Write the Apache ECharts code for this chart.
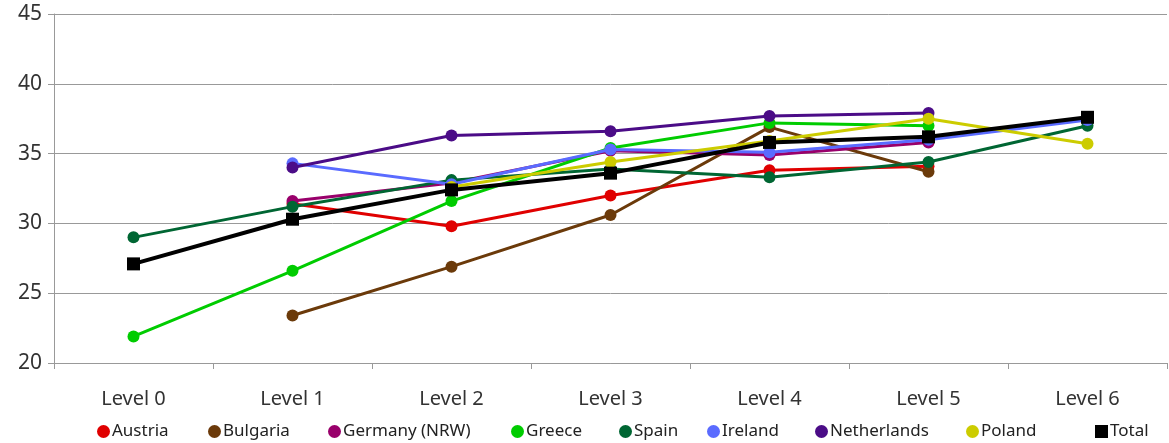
<!DOCTYPE html>
<html><head><meta charset="utf-8">
<script src="https://cdn.jsdelivr.net/npm/echarts@6/dist/echarts.min.js"></script>
<style>html,body{margin:0;padding:0;background:#fff}#c{width:1169px;height:443px}</style>
</head><body><div id="c"></div>
<script>
const categories = ['Level 0','Level 1','Level 2','Level 3','Level 4','Level 5','Level 6'];
const yTicks = [20,25,30,35,40,45];
const austria     = [null, 31.4, 29.8, 32.0, 33.8, 34.1, null];
const bulgaria    = [null, 23.4, 26.9, 30.6, 36.9, 33.7, null];
const germany     = [null, 31.6, 32.9, 35.2, 34.9, 35.8, null];
const greece      = [21.9, 26.6, 31.6, 35.4, 37.2, 37.0, null];
const spain       = [29.0, 31.2, 33.1, 33.9, 33.3, 34.4, 37.0];
const ireland     = [null, 34.3, 32.8, 35.3, 35.1, 36.0, 37.4];
const netherlands = [null, 34.0, 36.3, 36.6, 37.7, 37.9, null];
const poland      = [null, null, 32.6, 34.4, 35.9, 37.5, 35.7];
const total       = [27.1, 30.3, 32.4, 33.6, 35.8, 36.2, 37.6];

const names  = ['Austria','Bulgaria','Germany (NRW)','Greece','Spain','Ireland','Netherlands','Poland','Total'];
const values = [austria,bulgaria,germany,greece,spain,ireland,netherlands,poland,total];
const colors = ['#E00000','#6B3A0A','#99006B','#00CC00','#006633','#5A6BFF','#4B0C87','#CCCC00','#000000'];
const legendLeft = [92, 203, 323, 506, 614, 702, 810, 961, 1090];

const series = names.map((n,i)=>({
  name:n, type:'line', data:values[i],
  symbol: n==='Total' ? 'rect' : 'circle',
  symbolSize: n==='Total' ? 13 : 12,
  lineStyle:{color:colors[i], width: n==='Total' ? 4 : 3},
  itemStyle:{color:colors[i]},
  z: i+2
}));

const legends = names.map((n,i)=>({
  data:[{name:n, icon: n==='Total' ? 'rect' : 'circle'}],
  left: legendLeft[i], top: 418,
  itemWidth: 13, itemHeight: 13, itemGap: 4,
  textStyle:{fontFamily:'Noto Sans', fontSize:17, color:'#222', padding:[0,0,0,-3]},
  selectedMode:false
}));

const chart = echarts.init(document.getElementById('c'), null, {renderer:'canvas'});
chart.setOption({
  animation:false,
  color: colors,
  legend: legends,
  grid:{left:54, right:2, top:14, bottom:80, containLabel:false},
  xAxis:{type:'category', data:categories, boundaryGap:true,
    axisLine:{lineStyle:{color:'#999', width:1}},
    axisTick:{show:true, length:6, lineStyle:{color:'#999'}, alignWithLabel:false},
    axisLabel:{fontFamily:'Noto Sans', fontSize:20, color:'#333', margin:26}
  },
  yAxis:{type:'value', min:yTicks[0], max:yTicks[yTicks.length-1], interval:5,
    axisLine:{show:true, lineStyle:{color:'#999'}},
    axisTick:{show:true, length:6, inside:false, lineStyle:{color:'#999'}},
    splitLine:{lineStyle:{color:'#999', width:1}},
    axisLabel:{fontFamily:'Noto Sans', fontSize:21, color:'#333', margin:12}
  },
  series: series
});
</script></body></html>
